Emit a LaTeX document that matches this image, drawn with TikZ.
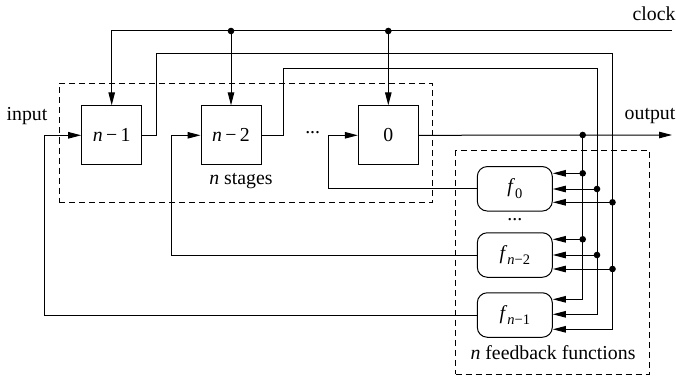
\documentclass[tikz,border=0pt]{standalone}
\usepackage{fontspec}
\setmainfont{Liberation Serif}
\usetikzlibrary{arrows.meta}
\begin{document}
\begin{tikzpicture}[x=1pt,y=-1pt,
  font=\fontsize{19.8}{22}\selectfont,
  line width=1pt,
  arr/.style={-{Triangle[length=13pt,width=6.5pt]}},
  reg/.style={draw,minimum width=60pt,minimum height=59pt,inner sep=0pt},
  fn/.style={draw,rounded corners=10pt,minimum width=75pt,minimum height=44.5pt,inner sep=0pt},
  grp/.style={draw,dash pattern=on 6pt off 4pt,minimum width=#1,inner sep=0pt},
  lbl/.style={inner sep=0pt}]
\newcommand{\sbs}[1]{\raisebox{-0.3em}{\fontsize{14.5}{14.5}\selectfont #1}}
\useasboundingbox (0,0) rectangle (676,377);
% groups
\node[grp=373.4pt,minimum height=119pt] (stg) at (246,142.8) {};
\node[grp=193.6pt,minimum height=223.6pt] (fbg) at (552.5,262.5) {};
% registers
\node[reg] (b1) at (111.7,135.3) {\textit{n}\,−\,1};
\node[reg] (b2) at (231,135.3) {\textit{n}\,−\,2};
\node[reg] (b0) at (388.3,135.3) {0};
% functions
\node[fn] (fa) at (514.8,188.8) {\textit{f}\sbs{0}};
\node[fn] (fb) at (514.8,255) {\textit{f}\sbs{\textit{n}−2}};
\node[fn] (fc) at (514.8,315) {\textit{f}\sbs{\textit{n}−1}};
% labels
\node[lbl] (stl) at (241,181) {\textit{n} stages};
\node[lbl] (fbl) at (553,353) {\textit{n} feedback functions};
\node[lbl] (inl) at (27,116) {input};
\node[lbl] (outl) at (650,116) {output};
\node[lbl] (clkl) at (654,14) {clock};
\node[lbl] (dts1) at (312.7,132.5) {...};
\node[lbl] (dts2) at (514.8,219.5) {...};
% coordinates
\coordinate (clkR) at (672,31);
\coordinate (clk2) at (231,31);
\coordinate (clk0) at (388.3,31);
\coordinate (outR) at (672,135);
\coordinate (c0) at (582.7,135);
\coordinate (t1a) at (156.7,53.3);
\coordinate (t1b) at (612.5,53.3);
\coordinate (t2a) at (283.3,68.3);
\coordinate (t2b) at (597,68.3);
\coordinate (fbx0) at (328.3,188.8);
\coordinate (fbx2) at (171.7,255);
\coordinate (fbx1) at (44.3,315);
\coordinate (ea1) at (582.7,173.3);
\coordinate (ea2) at (597,189);
\coordinate (ea3) at (612.5,202.3);
\coordinate (eb1) at (582.7,239.3);
\coordinate (eb2) at (597,255);
\coordinate (eb3) at (612.5,269);
\coordinate (ec1) at (582.7,299.3);
\coordinate (ec2) at (597,314.3);
\coordinate (ec3) at (612.5,329.3);
% clock
\draw[arr] (clkR) -| (b1.north);
\draw[arr] (clk2) -- (b2.north);
\draw[arr] (clk0) -- (b0.north);
\fill (clk2) circle (3.3);
\fill (clk0) circle (3.3);
% register outputs
\draw[arr] (b0.east) -- (outR);
\draw[arr] (b1.east) -| (t1a) -- (t1b) |- (ec3) -- (ec3 -| fc.east);
\draw[arr] (b2.east) -| (t2a) -- (t2b) |- (ec2) -- (ec2 -| fc.east);
\draw[arr] (c0) |- (ec1) -- (ec1 -| fc.east);
\fill (c0) circle (3.3);
% taps
\foreach \p/\f in {ea1/fa,ea2/fa,ea3/fa,eb1/fb,eb2/fb,eb3/fb}{
  \draw[arr] (\p) -- (\p -| \f.east);
  \fill (\p) circle (3.3);
}
% feedback
\draw[arr] (fa.west) -- (fbx0) |- (b0.west);
\draw[arr] (fb.west) -- (fbx2) |- (b2.west);
\draw[arr] (fc.west) -- (fbx1) |- (b1.west);
\end{tikzpicture}
\end{document}
